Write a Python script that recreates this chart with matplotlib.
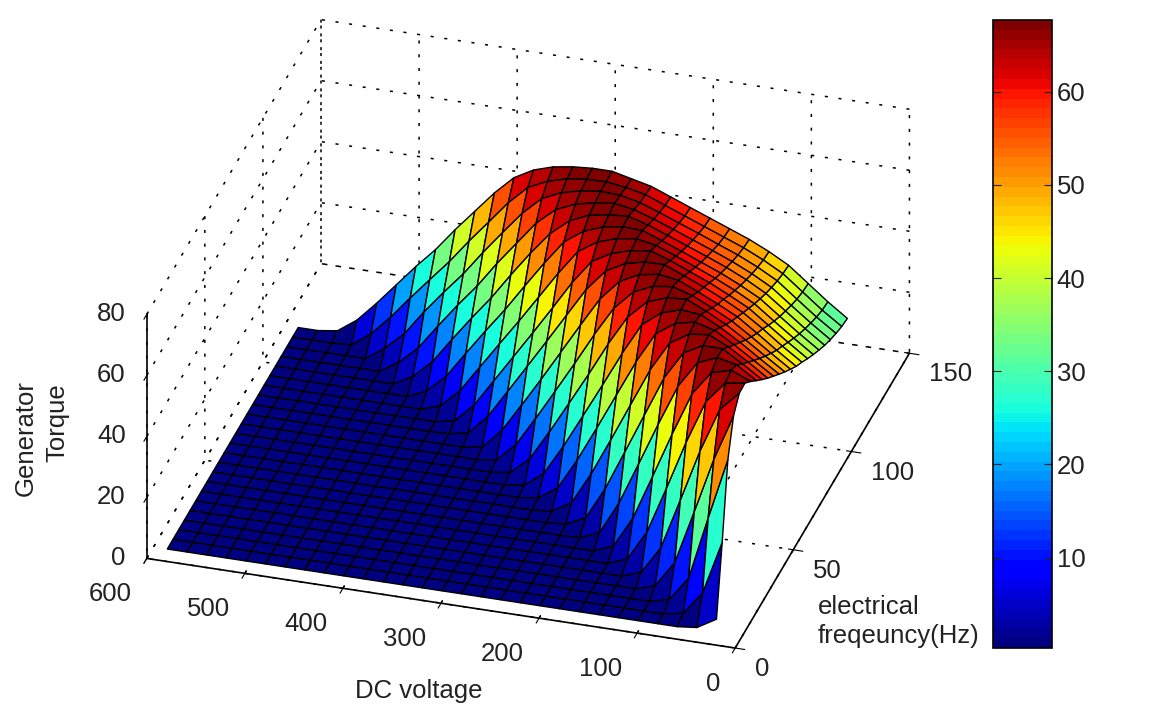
import numpy as np
import matplotlib
matplotlib.use("Agg")
import matplotlib.pyplot as plt
from matplotlib.colors import Normalize
from mpl_toolkits.mplot3d import proj3d

plt.rcParams['font.family'] = ['Liberation Sans', 'DejaVu Sans']

# axes of the table, Hz and volts
freq = [5, 9.9, 14.8, 19.7, 24.6, 29.5, 34.4, 39.3, 44.2, 49.1, 54, 58.9,
        63.8, 68.7, 73.6, 78.5, 83.4, 88.3, 93.2, 98.1, 103, 107.9, 112.8, 117.7]
volt = [25, 45, 65, 85, 105, 125, 145, 165, 185, 205, 225, 245, 265, 285, 305,
        325, 345, 365, 385, 405, 425, 445, 465, 485, 505, 525, 545, 565, 585]

# torque, one row per frequency, from 25 V upward
# the rows stop where the surface reaches the flat floor
floor_torque = 0.6
torque_rows = [
    [5, 1.3],
    [27, 9.5, 1.8],
    [51, 31, 10.2, 2.2],
    [62.2, 47.1, 28.9, 11.2, 2.6],
    [66.4, 60.1, 45.6, 28.6, 11.9, 2.9],
    [66.6, 65.6, 58.5, 44.3, 28.3, 12.9, 3.1],
    [64, 66.7, 64.9, 56.9, 42.9, 28, 13.4, 3.2],
    [61.1, 65.3, 66.7, 64, 55.3, 42, 28, 14.2, 3.4, 0.8],
    [58.3, 62.5, 66.4, 66.5, 63.1, 53.9, 40.8, 27.7, 14.7, 4.1, 1.1],
    [55.6, 59.9, 63.9, 66.9, 66.1, 62.2, 52.4, 40, 27.6, 15.5, 5, 1.3],
    [53.1, 57.3, 61.4, 65.2, 66.9, 65.5, 61.1, 51, 39.2, 27.4, 15.9, 5.7, 1.4],
    [50.6, 54.8, 59.1, 63, 66.2, 66.8, 64.8, 59.9, 49.6, 38.3, 27.2, 16.2, 6.3, 1.4],
    [48.2, 52.4, 56.7, 60.8, 64.1, 67.1, 66.6, 64.3, 58.4, 48.6, 37.7, 27.2, 16.8, 7, 1.5],
    [45.9, 50.2, 54.6, 58.8, 62.1, 65.1, 67.1, 66.2, 63.4, 57.1, 47.5, 37.1, 27, 17, 7.4, 1.5],
    [43.7, 48, 52.6, 57, 60.2, 63.2, 66, 67, 65.9, 62.7, 56, 46.4, 36.6, 26.8, 17.3, 8, 1.5],
    [41.9, 46.2, 50.9, 55.2, 58.6, 61.6, 64.3, 67, 66.9, 65.4, 62, 54.9, 45.5, 36.1, 26.8, 17.6, 8.5, 2.1, 0.8],
    [39.9, 44.3, 48.9, 53.5, 56.8, 59.9, 62.5, 65.2, 67.4, 66.5, 64.6, 61, 53.1, 43.8, 34.7, 25.8, 16.9, 8, 1.9],
    [38.1, 42.5, 47.1, 51.8, 55.2, 58.2, 60.9, 63.5, 66, 67.2, 66.3, 64.2, 60.1, 52, 43.2, 34.4, 25.9, 17.3, 8.7, 2.7],
    [36.4, 40.8, 45.5, 50.3, 53.7, 56.7, 59.3, 61.9, 64.4, 66.8, 67, 66, 63.6, 59.1, 51.2, 42.7, 34, 26, 17.7, 9.2, 3.4],
    [34.8, 39.3, 44.1, 48.9, 52.4, 55.4, 58, 60.5, 63, 65.4, 67.3, 66.8, 65.7, 62.9, 57.7, 50.3, 42.2, 33.7, 26.1, 18.1, 9.8, 4],
    [33.5, 38, 42.8, 47.7, 51.2, 54.2, 56.8, 59.3, 61.8, 64.2, 66.3, 67.4, 66.6, 65.2, 62.4, 57, 49.4, 41.8, 33.5, 26.2, 18.4, 10.3, 4.5],
    [32.4, 36.8, 41.7, 46.7, 50.2, 53.2, 55.7, 58.3, 60.7, 63.2, 65.5, 66.9, 67.2, 66.4, 64.8, 61.9, 56.1, 48.8, 41.3, 33.3, 26.3, 18.9, 10.8, 5],
    [31.5, 35.9, 40.9, 45.9, 49.4, 52.4, 54.9, 57.4, 59.9, 62.4, 64.9, 66.3, 67.2, 67, 66.2, 64.4, 61.4, 55.4, 48.1, 40.9, 33.2, 26.3, 19.3, 12, 5.6, 1],
    [31, 35.5, 40.5, 45.5, 49, 52, 54.5, 57, 59.5, 62, 64.5, 66, 67.5, 67.5, 67, 66, 64, 60.5, 54.5, 47.5, 40.5, 33, 26.5, 19.5, 12.5, 6, 1.5],
]

x_ticks = [0, 100, 200, 300, 400, 500, 600]
y_ticks = [0, 50, 100, 150]
z_ticks = [0, 20, 40, 60, 80]
bar_ticks = [10, 20, 30, 40, 50, 60]
bar_min = 0.3
bar_max = 67.7

Z = np.full((len(freq), len(volt)), floor_torque)
for i, row in enumerate(torque_rows):
    Z[i, :len(row)] = row
X, Y = np.meshgrid(volt, freq)

fig = plt.figure(figsize=(11.51, 7.17), dpi=100)
ax = fig.add_axes([0.0104, 0.0209, 0.88, 1.0], projection='3d', proj_type='ortho')
ax.set_box_aspect((616, 608, 284), zoom=1.23)
ax.view_init(elev=30.5, azim=-73.3)

cmap = plt.get_cmap('jet', 64)
norm = Normalize(bar_min, bar_max)
ax.plot_surface(X, Y, Z, rstride=1, cstride=1, facecolors=cmap(norm(Z)),
                shade=False, edgecolor='k', linewidth=1.0, antialiased=True)

ax.set_xlim(600, 0)
ax.set_ylim(0, 150)
ax.set_zlim(0, 80)
ax.set_xticks(x_ticks)
ax.set_yticks(y_ticks)
ax.set_zticks(z_ticks)
ax.set_xticklabels([])
ax.set_yticklabels([])
ax.set_zticklabels([])
ax.zaxis.set_ticks_position('lower')

for axis in (ax.xaxis, ax.yaxis, ax.zaxis):
    axis.set_pane_color((1, 1, 1, 0))
    axis.pane.set_edgecolor((1, 1, 1, 0))
    axis.line.set_color('k')
    axis.line.set_linewidth(1.2)
    axis._axinfo['grid'].update(color='k', linestyle=(0, (2, 7)), linewidth=1.1)

# tick labels by hand, mplot3d pushes them along the wrong direction
label_kw = dict(fontsize=18.5, va='center', color='#222222')
proj = ax.get_proj()
for v in x_ticks:
    px, py, _ = proj3d.proj_transform(v, 0, 0, proj)
    ax.annotate(str(v), (px, py), xytext=(-15, -36), textcoords='offset pixels',
                ha='right', annotation_clip=False, **label_kw)
for f in y_ticks:
    px, py, _ = proj3d.proj_transform(0, f, 0, proj)
    ax.annotate(str(f), (px, py), xytext=(20, -21), textcoords='offset pixels',
                ha='left', annotation_clip=False, **label_kw)
for t in z_ticks:
    px, py, _ = proj3d.proj_transform(600, 0, t, proj)
    ax.annotate(str(t), (px, py), xytext=(-21, 0), textcoords='offset pixels',
                ha='right', annotation_clip=False, **label_kw)

fig.text(419 / 1151, 1 - 691 / 717, 'DC voltage', ha='center', **label_kw)
fig.text(818 / 1151, 1 - 607 / 717, 'electrical', ha='left', **label_kw)
fig.text(818 / 1151, 1 - 636 / 717, 'freqeuncy(Hz)', ha='left', **label_kw)
fig.text(26 / 1151, 1 - 438 / 717, 'Generator', rotation=90, ha='center', **label_kw)
fig.text(57 / 1151, 1 - 423 / 717, 'Torque', rotation=90, ha='center', **label_kw)

cax = fig.add_axes([993 / 1151, 1 - 648 / 717, 59 / 1151, 628 / 717])
sm = plt.cm.ScalarMappable(norm=norm, cmap=cmap)
cb = fig.colorbar(sm, cax=cax, ticks=bar_ticks)
cb.ax.tick_params(labelsize=18.5, direction='in', length=6, left=True, right=True, colors='#222222')
cb.outline.set_linewidth(1.2)

fig.savefig('out.png', dpi=100)
